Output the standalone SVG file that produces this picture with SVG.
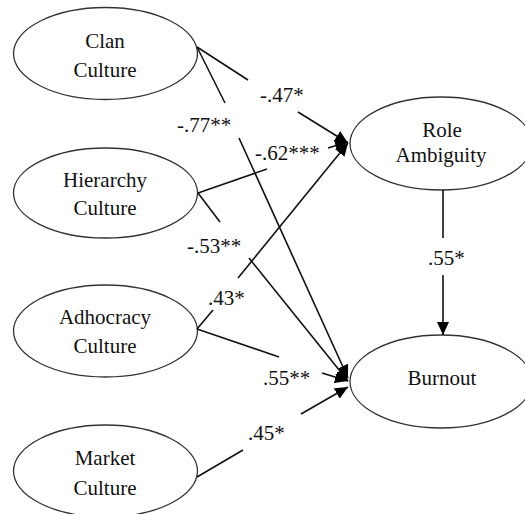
<svg xmlns="http://www.w3.org/2000/svg" width="525" height="514" viewBox="0 0 525 514">
<style>
.n ellipse{fill:#fff;stroke:#333;stroke-width:1.3}
.c line{stroke:#111;stroke-width:1.6}
.a{marker-end:url(#ah)}
</style>
<defs>
<marker id="ah" markerUnits="userSpaceOnUse" viewBox="0 0 13 12" markerWidth="13" markerHeight="12" refX="13" refY="6" orient="auto">
<path d="M0,0 L13,6 L0,12 z" fill="#000"/>
</marker>
</defs>
<rect width="525" height="514" fill="#fff"/>
<g id="clan" class="n"><ellipse cx="105.5" cy="53.5" rx="92" ry="46"/><text x="105" y="48" font-family="Liberation Serif" font-size="21" text-anchor="middle" fill="#111">Clan</text><text x="105" y="77" font-family="Liberation Serif" font-size="21" text-anchor="middle" fill="#111">Culture</text></g>
<g id="hierarchy" class="n"><ellipse cx="105.5" cy="193" rx="92" ry="45"/><text x="105" y="187" font-family="Liberation Serif" font-size="21" text-anchor="middle" fill="#111">Hierarchy</text><text x="105" y="215" font-family="Liberation Serif" font-size="21" text-anchor="middle" fill="#111">Culture</text></g>
<g id="adhocracy" class="n"><ellipse cx="105.5" cy="331" rx="92" ry="46"/><text x="105" y="324" font-family="Liberation Serif" font-size="21" text-anchor="middle" fill="#111">Adhocracy</text><text x="105" y="353" font-family="Liberation Serif" font-size="21" text-anchor="middle" fill="#111">Culture</text></g>
<g id="market" class="n"><ellipse cx="105.5" cy="471" rx="92" ry="46"/><text x="105" y="465" font-family="Liberation Serif" font-size="21" text-anchor="middle" fill="#111">Market</text><text x="105" y="495" font-family="Liberation Serif" font-size="21" text-anchor="middle" fill="#111">Culture</text></g>
<g id="role" class="n"><ellipse cx="441" cy="143.5" rx="91" ry="46.5"/><text x="442" y="137" font-family="Liberation Serif" font-size="21" text-anchor="middle" fill="#111">Role</text><text x="441" y="162" font-family="Liberation Serif" font-size="21" text-anchor="middle" fill="#111">Ambiguity</text></g>
<g id="burnout" class="n"><ellipse cx="441" cy="381.5" rx="91" ry="46.5"/><text x="442" y="385" font-family="Liberation Serif" font-size="21" text-anchor="middle" fill="#111">Burnout</text></g>
<g id="connectors" class="c">
<line x1="197" y1="47" x2="248" y2="80"/><line class="a" x1="298" y1="112" x2="348" y2="143"/>
<line x1="197" y1="47" x2="225" y2="103"/><line class="a" x1="239" y1="138" x2="348" y2="378"/>
<line x1="198" y1="193" x2="267" y2="169"/><line class="a" x1="328" y1="148" x2="348" y2="142"/>
<line x1="198" y1="193" x2="220" y2="222"/><line class="a" x1="249" y1="258" x2="348" y2="381"/>
<line x1="197" y1="329" x2="213" y2="310"/><line class="a" x1="238" y1="278" x2="348" y2="143"/>
<line x1="197" y1="329" x2="279" y2="357"/><line class="a" x1="322" y1="373" x2="348" y2="381"/>
<line x1="197" y1="477" x2="243" y2="450"/><line class="a" x1="301" y1="414" x2="348" y2="387"/>
<line x1="443" y1="190" x2="443" y2="238"/><line class="a" x1="443" y1="275" x2="443" y2="335"/>
</g>
<g id="labels">
<text x="260" y="102" font-family="Liberation Serif" font-size="21" fill="#111">-.47*</text>
<text x="177" y="132" font-family="Liberation Serif" font-size="21" fill="#111">-.77**</text>
<text x="255" y="160" font-family="Liberation Serif" font-size="21" fill="#111">-.62***</text>
<text x="187" y="253" font-family="Liberation Serif" font-size="21" fill="#111">-.53**</text>
<text x="428" y="265" font-family="Liberation Serif" font-size="21" fill="#111">.55*</text>
<text x="208" y="305" font-family="Liberation Serif" font-size="21" fill="#111">.43*</text>
<text x="263" y="385" font-family="Liberation Serif" font-size="21" fill="#111">.55**</text>
<text x="248" y="440" font-family="Liberation Serif" font-size="21" fill="#111">.45*</text>
</g>
</svg>
